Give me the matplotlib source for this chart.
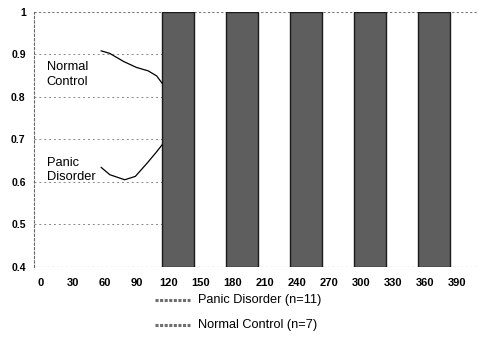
import matplotlib
matplotlib.use('Agg')
from matplotlib import pyplot as plt
from matplotlib import transforms

plt.rcParams['font.family'] = ['Liberation Sans', 'DejaVu Sans']

# dark shaded periods (start, end) in x units
dark_periods = [(120, 150), (180, 210), (240, 270), (300, 330), (360, 390)]

# curves before the first dark period
normal_x = [63, 71, 84, 96, 107, 115, 120]
normal_y = [0.908, 0.902, 0.883, 0.869, 0.861, 0.849, 0.832]
panic_x = [63, 71, 85, 95, 106, 115, 120]
panic_y = [0.634, 0.617, 0.605, 0.613, 0.644, 0.671, 0.687]

x_ticks = [0, 30, 60, 90, 120, 150, 180, 210, 240, 270, 300, 330, 360, 390]
y_ticks = [0.4, 0.5, 0.6, 0.7, 0.8, 0.9, 1.0]
y_labels = ['0.4', '0.5', '0.6', '0.7', '0.8', '0.9', '1']
legend_labels = ['Panic Disorder (n=11)', 'Normal Control (n=7)']

fig = plt.figure(figsize=(4.79, 3.40), dpi=100)
ax = fig.add_axes([34/479, 1-267/340, 446/479, (267-11.7)/340])

ax.set_xlim(0, 418)
ax.set_ylim(0.4, 1.0)

# grid only on the left part, top/bottom lines across
for y in y_ticks[1:-1]:
    ax.hlines(y, 0, 120, colors='#888888', linestyles=(0, (2, 3)), linewidth=0.7, zorder=1)
ax.hlines(1.0, 0, 418, colors='#777777', linestyles=(0, (2, 2)), linewidth=0.8, zorder=1)
ax.hlines(0.4, 0, 418, colors='#444444', linestyles=(0, (2, 2)), linewidth=0.8, zorder=1)

for start, end in dark_periods:
    ax.axvspan(start, end, facecolor='#5e5e5e', edgecolor='#1a1a1a', linewidth=1.0, zorder=2)

ax.plot(normal_x, normal_y, color='black', linewidth=0.9, zorder=3)
ax.plot(panic_x, panic_y, color='black', linewidth=0.9, zorder=3)

ax.text(12, 0.853, 'Normal\nControl', fontsize=9.3, va='center', ha='left', linespacing=1.3)
ax.text(12, 0.628, 'Panic\nDisorder', fontsize=9.3, va='center', ha='left', linespacing=1.3)

for s in ['top', 'right', 'bottom']:
    ax.spines[s].set_visible(False)
ax.spines['left'].set_linestyle((0, (2, 2)))
ax.spines['left'].set_color('#666666')
ax.spines['left'].set_linewidth(0.8)

ax.set_xticks(x_ticks)
ax.set_xticklabels([str(t) for t in x_ticks], fontsize=8, fontweight='bold')
ax.set_yticks(y_ticks)
ax.set_yticklabels(y_labels, fontsize=7.5, fontweight='bold')
ax.tick_params(axis='both', length=0)
ax.tick_params(axis='x', pad=8)
ax.tick_params(axis='y', pad=6)
offset = transforms.ScaledTranslation(6.5/100, 0, fig.dpi_scale_trans)
for lbl in ax.get_xticklabels():
    lbl.set_transform(lbl.get_transform() + offset)

# legend drawn below
for i, name in enumerate(legend_labels):
    yy = 1 - (300 + 25*i)/340
    fig.add_artist(plt.Line2D([155/479, 190/479], [yy, yy], color='#6e6e6e', linewidth=2.2,
                              linestyle=(0, (1, 0.5))))
    fig.text(198/479, yy, name, fontsize=9.2, va='center', ha='left')

fig.savefig('out.png', dpi=100)
